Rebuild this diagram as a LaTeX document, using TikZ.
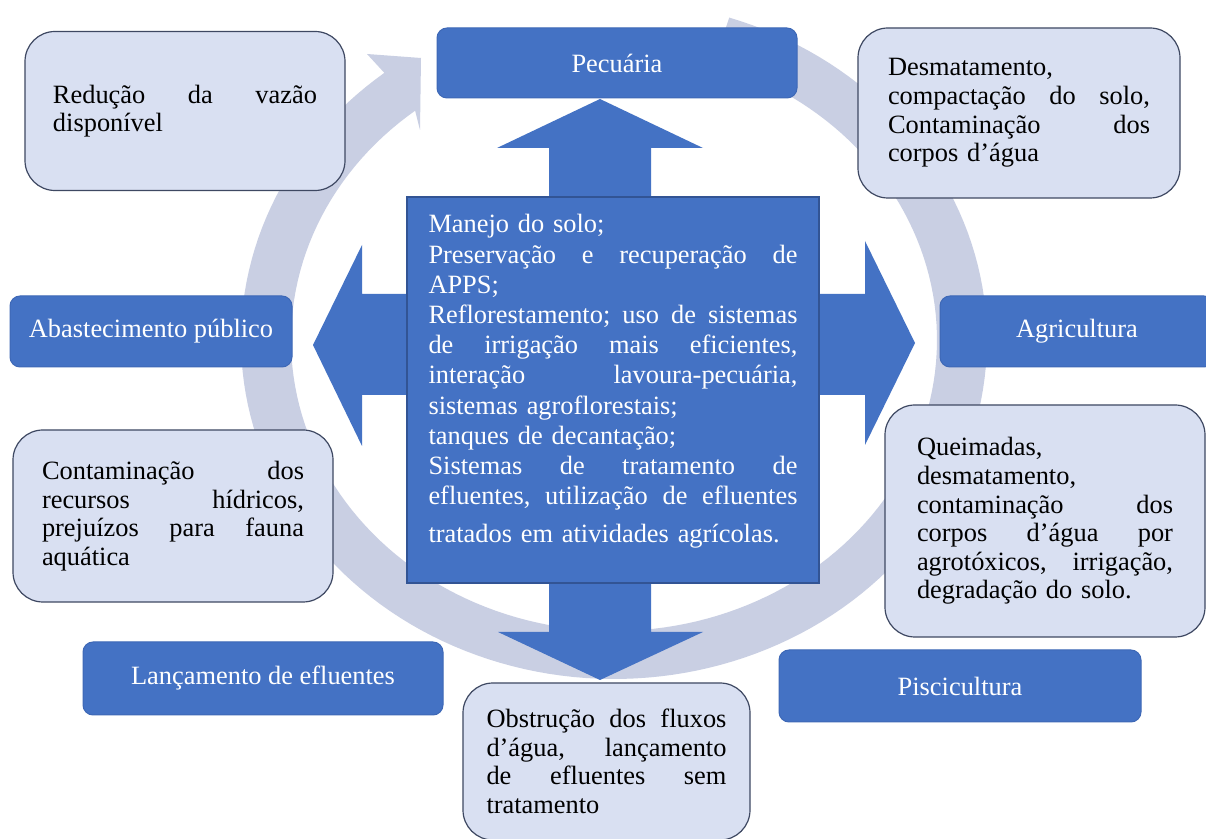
\documentclass[tikz,border=0pt]{standalone}
\usepackage{fontspec}
\setmainfont{Liberation Serif}
\definecolor{myblue}{RGB}{68,114,196}
\definecolor{catline}{RGB}{62,104,182}
\definecolor{boxline}{RGB}{50,84,148}
\definecolor{implight}{RGB}{217,224,242}
\definecolor{impline}{RGB}{62,72,98}
\definecolor{ringcol}{RGB}{201,207,227}
\newcommand\myfs{\fontsize{13.2}{14.3}\selectfont}
\newcommand\myfsc{\fontsize{13.2}{15.1}\selectfont}
\newcommand\jl[2]{\leavevmode\hbox to #1{\frenchspacing\spaceskip=0.25em plus 1fil\relax #2}}
\tikzset{
  catbox/.style={draw=catline, line width=0.5pt, fill=myblue, rounded corners=5pt,
    text=white, font=\myfs, inner sep=0pt},
  impbox/.style={draw=impline, line width=0.6pt, fill=implight, rounded corners=15pt,
    text=black, font=\myfs, align=left, inner sep=0pt},
  ring/.style={fill=ringcol},
  cross/.style={fill=myblue},
}
\begin{document}
\begin{tikzpicture}[x=0.5pt,y=-0.5pt]
\fill[white] (0,0) rectangle (1206,839);
\useasboundingbox (0,0) rectangle (1206,839);

% background circular arrow
\coordinate (barbout) at (367,54);
\coordinate (ringtip) at (421,58);
\coordinate (barbin) at (420,130);
\fill[ring] plot[domain=-72:232,samples=160] ({614+373*cos(\x)},{340+339*sin(\x)})
  -- (barbout) -- (ringtip) -- (barbin)
  -- plot[domain=232:-72,samples=160] ({614+323*cos(\x)},{340+291*sin(\x)})
  -- cycle;

% central cross of arrows
\fill[cross] (600,99) -- (703,148) -- (651,148) -- (651,294) -- (865,294)
  -- (865,241) -- (915,343) -- (865,445) -- (865,395) -- (651,395)
  -- (651,632) -- (703,632) -- (600,680) -- (498,632) -- (549,632)
  -- (549,395) -- (362,395) -- (362,446) -- (313,345) -- (362,245)
  -- (362,294) -- (549,294) -- (549,148) -- (497,148) -- cycle;

% central box
\node[draw=boxline, line width=0.6pt, fill=myblue, minimum width=206pt,
  minimum height=193pt, inner sep=0pt] (cbox) at (613,390) {};
\node[text=white, font=\myfsc, text width=184.5pt, align=left, inner sep=0pt]
  (ctext) at (613,381.5) {Manejo do solo;\\
  \jl{184.5pt}{Preservação e recuperação de}\\
  APPS;\\
  \jl{184.5pt}{Reflorestamento; uso de sistemas}\\
  \jl{184.5pt}{de irrigação mais eficientes,}\\
  \jl{184.5pt}{interação lavoura-pecuária,}\\
  sistemas agroflorestais;\\
  tanques de decantação;\\
  \jl{184.5pt}{Sistemas de tratamento de}\\
  \jl{184.5pt}{efluentes, utilização de efluentes}\\[4pt]
  tratados em atividades agrícolas.};

% category boxes
\node[catbox, minimum width=180pt, minimum height=35pt] (pec) at (617,63) {Pecuária};
\node[catbox, minimum width=141pt, minimum height=35.5pt] (aba) at (151,331.5) {Abastecimento público};
\node[catbox, minimum width=137pt, minimum height=35.5pt] (agr) at (1077,331.5) {Agricultura};
\node[catbox, minimum width=181pt, minimum height=36pt] (pis) at (960,686) {Piscicultura};
\node[catbox, minimum width=180pt, minimum height=36.5pt] (lan) at (263,678.5) {Lançamento de efluentes};

% impact boxes
\node[impbox, minimum width=160pt, minimum height=79.5pt, text width=132pt] (red) at (185,111)
  {\jl{132pt}{Redução da vazão}\\ disponível};
\node[impbox, minimum width=161pt, minimum height=85pt, text width=131pt] (des) at (1019,113)
  {Desmatamento,\\ \jl{131pt}{compactação do solo,}\\ \jl{131pt}{Contaminação dos}\\ corpos d’água};
\node[impbox, minimum width=160pt, minimum height=86pt, text width=131pt] (con) at (173,516)
  {\jl{131pt}{Contaminação dos}\\ \jl{131pt}{recursos hídricos,}\\ \jl{131pt}{prejuízos para fauna}\\ aquática};
\node[impbox, minimum width=160pt, minimum height=116pt, text width=128pt] (que) at (1045,521)
  {Queimadas,\\ desmatamento,\\ \jl{128pt}{contaminação dos}\\ \jl{128pt}{corpos d’água por}\\ \jl{128pt}{agrotóxicos, irrigação,}\\ degradação do solo.};
\node[impbox, minimum width=143.5pt, minimum height=78.5pt, text width=120pt] (obs) at (606.5,761.5)
  {\jl{120pt}{Obstrução dos fluxos}\\ \jl{120pt}{d’água, lançamento}\\ \jl{120pt}{de efluentes sem}\\ tratamento};
\end{tikzpicture}
\end{document}
